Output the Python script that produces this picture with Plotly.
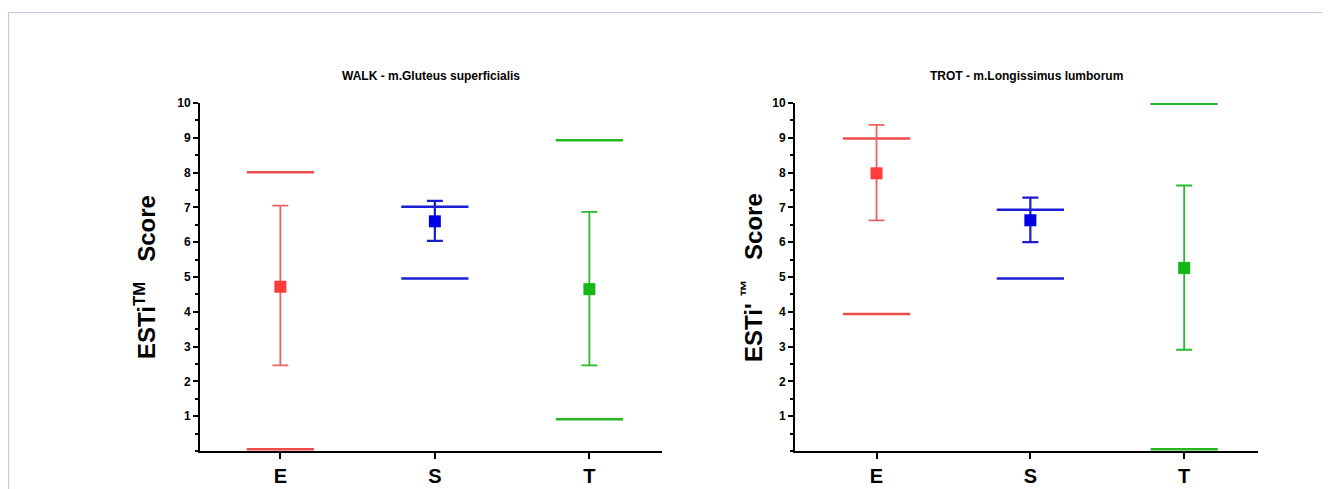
import plotly.graph_objects as go

categories = ["E", "S", "T"]

walk_mean = [4.72, 6.60, 4.65]
walk_err_hi = [7.05, 7.19, 6.87]
walk_err_lo = [2.46, 6.04, 2.46]
walk_max = [8.01, 7.02, 8.93]
walk_min = [0.05, 4.96, 0.91]

trot_mean = [7.98, 6.63, 5.26]
trot_err_hi = [9.37, 7.28, 7.63]
trot_err_lo = [6.63, 6.00, 2.91]
trot_max = [8.98, 6.93, 9.98]
trot_min = [3.94, 4.96, 0.05]

y_ticks = [1, 2, 3, 4, 5, 6, 7, 8, 9, 10]
titles = ["WALK - m.Gluteus superficialis", "TROT - m.Longissimus lumborum"]
y_titles = ["<b>ESTi<sup>TM</sup>   Score</b>", "<b>ESTi' <sup>\u2122</sup>   Score</b>"]

marker_colors = ["#ff3c3c", "#0000e6", "#16b816"]
bar_colors = ["#e86464", "#1c1ccc", "#2cb82c"]
range_colors = ["#f04c4c", "#1c1cd6", "#24b824"]

FONT = "Arial, Liberation Sans, sans-serif"
W, H = 1330, 489
OFF = 8  # page body margin


def px(x):
    return (x - OFF) / W


def py(y):
    return 1 - (y - OFF) / H


fig = go.Figure()

panels = [
    dict(mean=walk_mean, hi=walk_err_hi, lo=walk_err_lo, mx=walk_max, mn=walk_min,
         xa="x", ya="y", xdom=(200, 662), xr=[-0.52, 2.47]),
    dict(mean=trot_mean, hi=trot_err_hi, lo=trot_err_lo, mx=trot_max, mn=trot_min,
         xa="x2", ya="y2", xdom=(795, 1258), xr=[-0.53, 2.48]),
]

for p in panels:
    for i, c in enumerate(categories):
        # range lines (min / max)
        fig.add_trace(go.Scatter(
            x=[c, c], y=[p["mx"][i], p["mn"][i]], mode="markers",
            marker=dict(symbol="line-ew", size=48,
                        line=dict(color=range_colors[i], width=2.5)),
            xaxis=p["xa"], yaxis=p["ya"], showlegend=False, hoverinfo="y"))
        # mean with error bar
        fig.add_trace(go.Scatter(
            x=[c], y=[p["mean"][i]], mode="markers",
            marker=dict(symbol="square", size=12, color=marker_colors[i]),
            error_y=dict(type="data", symmetric=False,
                         array=[p["hi"][i] - p["mean"][i]],
                         arrayminus=[p["mean"][i] - p["lo"][i]],
                         color=bar_colors[i], thickness=1.8 if i != 1 else 2.2,
                         width=8),
            xaxis=p["xa"], yaxis=p["ya"], showlegend=False))

ydom = [py(451), py(103)]

axis_common = dict(showgrid=False, zeroline=False, showline=True,
                   linecolor="black", linewidth=2, ticks="outside",
                   tickcolor="black", tickwidth=2, automargin=False)

for k, p in enumerate(panels):
    sx = "" if k == 0 else "2"
    fig.update_layout(**{
        "xaxis" + sx: dict(axis_common, domain=[px(p["xdom"][0]), px(p["xdom"][1])],
                           type="category", categoryorder="array",
                           categoryarray=categories, range=p["xr"], ticklen=6,
                           tickfont=dict(family=FONT, size=20, color="black", weight="bold"),
                           anchor="y" + sx),
        "yaxis" + sx: dict(axis_common, domain=ydom, range=[0, 10],
                           tickvals=y_ticks, ticklen=5,
                           tickfont=dict(family=FONT, size=12, color="black", weight="bold"),
                           minor=dict(dtick=0.5, tick0=0, ticks="outside", ticklen=3,
                                      tickcolor="black", tickwidth=1.5),
                           anchor="x" + sx),
    })
    cx = px((p["xdom"][0] + p["xdom"][1]) / 2)
    fig.add_annotation(text="<b>" + titles[k] + "</b>", x=cx, y=py(76),
                       xref="paper", yref="paper", showarrow=False,
                       font=dict(family=FONT, size=12, color="black"),
                       xanchor="center", yanchor="middle")
    tx = px(145 if k == 0 else 752)
    fig.add_annotation(text=y_titles[k], x=tx, y=(ydom[0] + ydom[1]) / 2,
                       xref="paper", yref="paper", showarrow=False, textangle=-90,
                       font=dict(family=FONT, size=24, color="black"),
                       xanchor="center", yanchor="middle")

fig.add_shape(type="rect", xref="paper", yref="paper",
              x0=px(8.5), x1=1.05, y0=-0.05, y1=py(12.5),
              line=dict(color="#c4c6ec", width=1.2), layer="below")

fig.update_layout(width=W, height=H, margin=dict(l=0, r=0, t=0, b=0),
                  paper_bgcolor="white", plot_bgcolor="white",
                  showlegend=False)

fig.write_html("out.html")
